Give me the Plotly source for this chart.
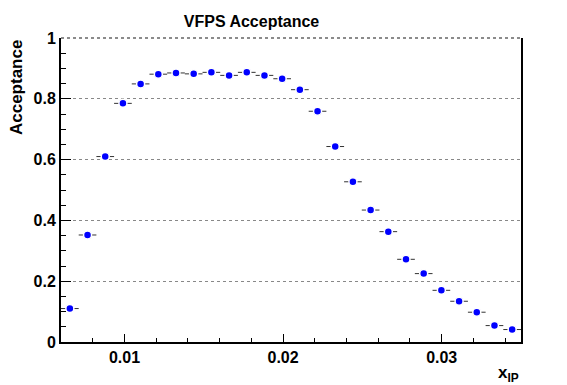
import plotly.graph_objects as go

x_min = 0.006
x_max = 0.035
n_bins = 26
acceptance = [0.110, 0.352, 0.610, 0.785, 0.849, 0.881, 0.885, 0.882, 0.887, 0.877,
              0.887, 0.877, 0.866, 0.830, 0.759, 0.643, 0.527, 0.434, 0.363, 0.272,
              0.225, 0.170, 0.134, 0.098, 0.054, 0.041]

bw = (x_max - x_min) / n_bins
x_centers = [x_min + (i + 0.5) * bw for i in range(n_bins)]
x_half = [bw / 2] * n_bins

FONT = "Liberation Sans, Arial, Helvetica, sans-serif"

# page body has an 8px default margin, so the figure is sized to fit the window
fig = go.Figure()
fig.add_trace(go.Scatter(
    x=x_centers, y=acceptance, mode="markers",
    marker=dict(color="#0000ff", size=8, line=dict(color="white", width=1.5)),
    error_x=dict(type="data", array=x_half, color="#333333", thickness=1, width=0),
    showlegend=False,
))

fig.update_layout(
    width=559, height=377,
    margin=dict(l=53, r=46, t=30, b=43),
    paper_bgcolor="white", plot_bgcolor="white",
    title=dict(text="VFPS Acceptance", x=0.4356, xanchor="center", y=0.9655, yanchor="middle",
               font=dict(family=FONT, size=16, color="black", weight="bold")),
    font=dict(family=FONT, color="black"),
)
fig.update_xaxes(
    range=[x_min, x_max], showgrid=False, zeroline=False,
    showline=True, linecolor="black", linewidth=2, mirror=False,
    ticks="inside", ticklen=8, tickwidth=1, tickcolor="black",
    dtick=0.01, tick0=0,
    tickfont=dict(family=FONT, size=16, weight="bold"),
    minor=dict(ticks="inside", ticklen=4, dtick=0.002, tick0=0, tickcolor="black", showgrid=False),
)
fig.update_yaxes(
    range=[0, 1], showgrid=True, gridcolor="#888888", griddash="dot", gridwidth=1,
    zeroline=False, showline=True, linecolor="black", linewidth=2, mirror=True,
    ticks="inside", ticklen=10, tickwidth=1, tickcolor="black",
    dtick=0.2, tick0=0, tickformat="~g",
    tickfont=dict(family=FONT, size=16, weight="bold"),
    minor=dict(ticks="inside", ticklen=5, dtick=0.05, tick0=0, tickcolor="black", showgrid=False),
)
# dotted top frame (grid line at the top edge)
fig.add_shape(type="line", xref="paper", yref="paper", x0=0, x1=1, y0=1, y1=1,
              line=dict(color="#666666", width=1.5, dash="dot"), layer="below")
fig.add_annotation(text="Acceptance", xref="paper", yref="paper", x=-0.0967, y=1.0,
                   xanchor="center", yanchor="top", textangle=-90, showarrow=False,
                   font=dict(family=FONT, size=17, color="black", weight="bold"))
fig.add_annotation(text="x<sub>IP</sub>", xref="paper", yref="paper", x=1.0, y=-0.062,
                   xanchor="right", yanchor="top", showarrow=False,
                   font=dict(family=FONT, size=17, color="black", weight="bold"))

fig.write_html("out.html")
